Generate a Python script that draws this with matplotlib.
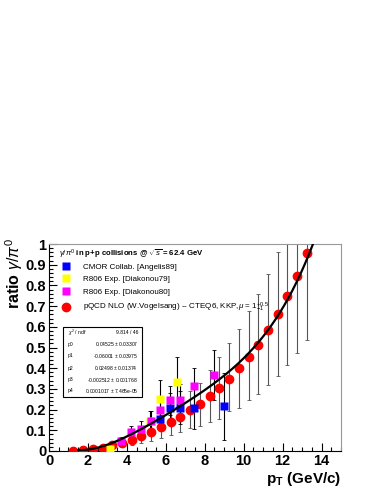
import matplotlib
matplotlib.use("Agg")
import matplotlib.pyplot as plt
import numpy as np
from matplotlib.lines import Line2D
from matplotlib.patches import Rectangle
from matplotlib.ticker import MultipleLocator, FuncFormatter

plt.rcParams['font.family'] = ['Liberation Sans', 'DejaVu Sans']
plt.rcParams['mathtext.fontset'] = 'custom'
plt.rcParams['mathtext.rm'] = 'Liberation Sans'
plt.rcParams['mathtext.it'] = 'Liberation Sans:italic'
plt.rcParams['mathtext.bf'] = 'Liberation Sans:bold'

# --- data -----------------------------------------------------------
pqcd_x = [1.25, 1.75, 2.25, 2.75, 3.25, 3.75, 4.25, 4.75, 5.25, 5.75, 6.25, 6.75,
          7.25, 7.75, 8.25, 8.75, 9.25, 9.75, 10.25, 10.75, 11.25, 11.75, 12.25, 12.75, 13.25]
pqcd_y = [0.002, 0.004, 0.008, 0.016, 0.028, 0.040, 0.055, 0.072, 0.092, 0.115, 0.138, 0.166,
          0.196, 0.226, 0.264, 0.304, 0.350, 0.400, 0.454, 0.514, 0.587, 0.662, 0.750, 0.846, 0.956]
pqcd_lo = [0.001, 0.002, 0.004, 0.008, 0.015, 0.022, 0.030, 0.040, 0.050, 0.063, 0.075, 0.090,
           0.110, 0.120, 0.140, 0.155, 0.195, 0.210, 0.244, 0.276, 0.317, 0.361, 0.415, 0.472, 0.537]
pqcd_hi = [0.003, 0.006, 0.012, 0.024, 0.042, 0.060, 0.082, 0.108, 0.140, 0.175, 0.210, 0.250,
           0.290, 0.330, 0.390, 0.455, 0.520, 0.590, 0.675, 0.760, 0.855, 0.962, 1.10, 1.25, 1.40]

cmor_x = [5.72, 6.22, 6.72, 7.47, 8.99]
cmor_y = [0.155, 0.210, 0.210, 0.208, 0.215]
cmor_err = [0.04, 0.07, 0.08, 0.10, 0.16]

r806a_x = [3.15, 5.17, 5.70, 6.57]
r806a_y = [0.008, 0.143, 0.253, 0.333]
r806a_err = [0.02, 0.05, 0.09, 0.12]

r806b_x = [3.70, 4.22, 4.72, 5.25, 5.72, 6.22, 6.72, 7.47, 8.49]
r806b_y = [0.046, 0.092, 0.106, 0.146, 0.197, 0.244, 0.244, 0.313, 0.366]
r806b_err = [0.02, 0.03, 0.04, 0.045, 0.07, 0.07, 0.08, 0.09, 0.12]

# pol4 fit parameters (from stats box)
fit_p = [0.04525, -0.06001, 0.02498, -0.002512, 0.0001017]
fit_rows = [(r'$\chi^2$ / ndf', '9.814 / 46'),
            ('p0', '0.04525 $\\pm$ 0.03307'),
            ('p1', '-0.06001 $\\pm$ 0.03975'),
            ('p2', '0.02498 $\\pm$ 0.01374'),
            ('p3', '-0.002512 $\\pm$ 0.001768'),
            ('p4', '0.0001017 $\\pm$ 7.465e-05')]

# --- figure ---------------------------------------------------------
fig = plt.figure(figsize=(3.79, 4.91), dpi=100)
ax = fig.add_axes([0.1293, 0.0815, 0.7704, 0.4215])
ax.set_xlim(0, 15)
ax.set_ylim(0, 1)

yv = np.array(pqcd_y)
ax.errorbar(pqcd_x, pqcd_y, yerr=[yv - np.array(pqcd_lo), np.array(pqcd_hi) - yv],
            fmt='none', ecolor='#555555', elinewidth=0.8, capsize=1.2, capthick=0.6, zorder=2)
for xs, ys, es in [(cmor_x, cmor_y, cmor_err), (r806a_x, r806a_y, r806a_err), (r806b_x, r806b_y, r806b_err)]:
    ax.errorbar(xs, ys, yerr=es, fmt='none', ecolor='black', elinewidth=0.8,
                capsize=1.2, capthick=0.6, zorder=2)

ax.plot(pqcd_x, pqcd_y, 'o', color='#ff0000', ms=6, mec='#ff0000', zorder=3)
ax.plot(cmor_x, cmor_y, 's', color='#0000ff', ms=6, mec='none', zorder=4)
ax.plot(r806a_x, r806a_y, 's', color='#ffff00', ms=6, mec='none', zorder=4)
ax.plot(r806b_x, r806b_y, 's', color='#ff00ff', ms=6, mec='none', zorder=4)

xf = np.linspace(1.5, 14.0, 300)
yf = np.polyval(fit_p[::-1], xf)
ax.plot(xf, yf, color='black', lw=1.6, zorder=5)

# axes styling
for s in ['top', 'right']:
    ax.spines[s].set_color('#999999')
ax.xaxis.set_major_locator(MultipleLocator(2))
ax.xaxis.set_minor_locator(MultipleLocator(0.5))
ax.yaxis.set_major_locator(MultipleLocator(0.1))
ax.yaxis.set_minor_locator(MultipleLocator(0.02))
ax.tick_params(which='both', direction='in', top=False, right=False, width=0.8)
ax.tick_params(which='major', length=6, labelsize=10.5, pad=2)
ax.tick_params(which='minor', length=3)
ax.yaxis.set_major_formatter(FuncFormatter(
    lambda v, p: ('%d' % round(v)) if abs(v - round(v)) < 1e-9 else ('%.1f' % v)))
for lab in ax.get_xticklabels() + ax.get_yticklabels():
    lab.set_fontweight('bold')

ax.set_ylabel(r'ratio $\gamma/\pi^0$', fontsize=11.5, fontweight='bold', loc='top')
ax.yaxis.set_label_coords(-0.082, 1.03)
ax.set_xlabel(r'$\mathbf{p_T}$ (GeV/c)', fontsize=11, fontweight='bold', loc='right')
ax.xaxis.set_label_coords(1.0, -0.09)

# legend
handles = [
    Line2D([], [], marker='s', ls='none', color='#0000ff', ms=6, mec='none'),
    Line2D([], [], marker='s', ls='none', color='#ffff00', ms=6, mec='none'),
    Line2D([], [], marker='s', ls='none', color='#ff00ff', ms=6, mec='none'),
    Line2D([], [], marker='o', ls='none', color='#ff0000', ms=6, mec='#ff0000'),
]
labels = ['CMOR Collab. [Angelis89]', 'R806 Exp. [Diakonou79]', 'R806 Exp. [Diakonou80]',
          r'pQCD NLO (W.Vogelsang) -- CTEQ6, KKP,$\mu$ = $1^{+0.5}_{-1}$']
ax.legend(handles, labels, loc='upper left', bbox_to_anchor=(0.035, 0.92), frameon=False,
          fontsize=5.8, handlelength=1.0, handletextpad=1.6, labelspacing=0.62,
          borderaxespad=0.0, borderpad=0.3)
ax.text(0.034, 0.952, r'$\gamma/\pi^0$ in p+p collisions @ $\sqrt{s}$ = 62.4 GeV',
        transform=ax.transAxes, fontsize=5.6, fontweight='bold', va='center', ha='left')

# stats box
ax.add_patch(Rectangle((0.049, 0.259), 0.268, 0.341, transform=ax.transAxes,
                       fill=True, facecolor='white', edgecolor='black', lw=0.8, zorder=6))
row_y = [0.573, 0.515, 0.459, 0.400, 0.343, 0.291]
for (lab, val), yy in zip(fit_rows, row_y):
    ax.text(0.065, yy, lab, transform=ax.transAxes, fontsize=3.6, va='center', ha='left', zorder=7)
    ax.text(0.305, yy, val, transform=ax.transAxes, fontsize=3.6, va='center', ha='right', zorder=7)

fig.savefig('out.png', dpi=100)
